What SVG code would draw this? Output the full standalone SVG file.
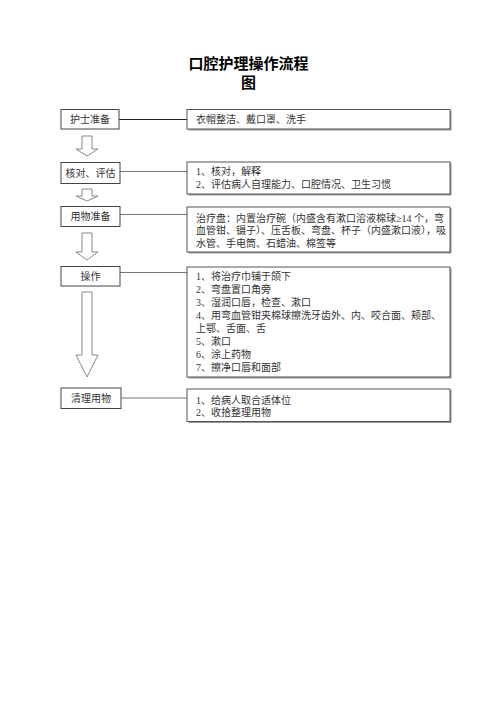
<svg xmlns="http://www.w3.org/2000/svg" width="496" height="702" viewBox="0 0 496 702">
<style>
  .title { font-family: "Noto Sans CJK SC", "Liberation Sans", sans-serif; font-size: 15px; font-weight: bold; fill: #000; text-anchor: middle; }
  .node rect { fill: #fff; stroke: #444; stroke-width: 1; }
  .label { font-family: "Liberation Serif", "Noto Sans CJK SC", serif; font-size: 10px; fill: #333; text-anchor: middle; }
  .desc rect.box { fill: #fff; stroke: #555; stroke-width: 1; }
  .desc rect.shadow { fill: #999; stroke: none; }
  .txt { font-family: "Liberation Serif", "Noto Sans CJK SC", serif; font-size: 10px; fill: #333; }
  .conn { stroke: #777; stroke-width: 1; fill: none; }
  .arrow { fill: #fff; stroke: #888; stroke-width: 1; }
</style>
<rect width="496" height="702" fill="#fff"/>
<text class="title" x="248.5" y="68.7">口腔护理操作流程</text>
<text class="title" x="248.5" y="87.7">图</text>

<g id="connectors">
  <line class="conn" x1="119" y1="119.5" x2="187" y2="119.5" style="stroke:#222;stroke-width:1.2"/>
  <line class="conn" x1="120" y1="171.5" x2="187" y2="171.5"/>
  <line class="conn" x1="120" y1="214.5" x2="187" y2="214.5"/>
  <line class="conn" x1="120" y1="272.5" x2="187" y2="272.5"/>
  <line class="conn" x1="121" y1="398" x2="187" y2="398"/>
  <polygon class="arrow" points="82,136 92,136 92,149 98,149 87,156 76,149 82,149"/>
  <polygon class="arrow" points="82,189 92,189 92,196 98,196 87,201 76,196 82,196"/>
  <polygon class="arrow" points="82,233 92,233 92,252 98,252 87,260 76,252 82,252"/>
  <polygon class="arrow" points="82,292 92,292 92,355 98,355 87,377 76,355 82,355"/>
</g>

<g id="node-nurse-prep" class="node">
  <rect x="61" y="109.5" width="58" height="19.5"/>
  <text class="label" x="90" y="123.3">护士准备</text>
</g>
<g id="node-check" class="node">
  <rect x="61" y="162.5" width="59" height="21"/>
  <text class="label" x="90.5" y="176.5">核对、评估</text>
</g>
<g id="node-materials" class="node">
  <rect x="61" y="206.5" width="59" height="20"/>
  <text class="label" x="90.5" y="220">用物准备</text>
</g>
<g id="node-operate" class="node">
  <rect x="61" y="266.5" width="59" height="19.5"/>
  <text class="label" x="90.5" y="279.5">操作</text>
</g>
<g id="node-clean" class="node">
  <rect x="61" y="388" width="60" height="20.5"/>
  <text class="label" x="91" y="402">清理用物</text>
</g>

<g id="desc-1" class="desc">
  <rect class="shadow" x="188.5" y="110.5" width="263" height="20"/>
  <rect class="box" x="187" y="109.5" width="263" height="19.5"/>
  <text class="txt" x="196" y="123.3">衣帽整洁、戴口罩、洗手</text>
</g>
<g id="desc-2" class="desc">
  <rect class="shadow" x="188.5" y="163" width="263" height="32.5"/>
  <rect class="box" x="187" y="162" width="263" height="32"/>
  <text class="txt" x="196" y="174.8">1、核对，解释</text>
  <text class="txt" x="196" y="187.6">2、评估病人自理能力、口腔情况、卫生习惯</text>
</g>
<g id="desc-3" class="desc">
  <rect class="shadow" x="188.5" y="208" width="263" height="45.5"/>
  <rect class="box" x="187" y="207" width="263" height="45"/>
  <text class="txt" x="196" y="221.6">治疗盘：内置治疗碗（内盛含有漱口溶液棉球≥14 个，弯</text>
  <text class="txt" x="196" y="234.1">血管钳、镊子）、压舌板、弯盘、杯子（内盛漱口液），吸</text>
  <text class="txt" x="196" y="246.6">水管、手电筒、石蜡油、棉签等</text>
</g>
<g id="desc-4" class="desc">
  <rect class="shadow" x="188.5" y="268" width="263" height="110.5"/>
  <rect class="box" x="187" y="267" width="263" height="110"/>
  <text class="txt" x="196" y="279.8">1、将治疗巾铺于颌下</text>
  <text class="txt" x="196" y="292.8">2、弯盘置口角旁</text>
  <text class="txt" x="196" y="305.8">3、湿润口唇，检查、漱口</text>
  <text class="txt" x="196" y="318.8">4、用弯血管钳夹棉球擦洗牙齿外、内、咬合面、颊部、</text>
  <text class="txt" x="196" y="331.8">上鄂、舌面、舌</text>
  <text class="txt" x="196" y="344.8">5、漱口</text>
  <text class="txt" x="196" y="357.8">6、涂上药物</text>
  <text class="txt" x="196" y="370.8">7、擦净口唇和面部</text>
</g>
<g id="desc-5" class="desc">
  <rect class="shadow" x="188.5" y="390" width="263" height="33"/>
  <rect class="box" x="187" y="389" width="263" height="32.5"/>
  <text class="txt" x="196" y="403.8">1、给病人取合适体位</text>
  <text class="txt" x="196" y="416.3">2、收拾整理用物</text>
</g>
</svg>
